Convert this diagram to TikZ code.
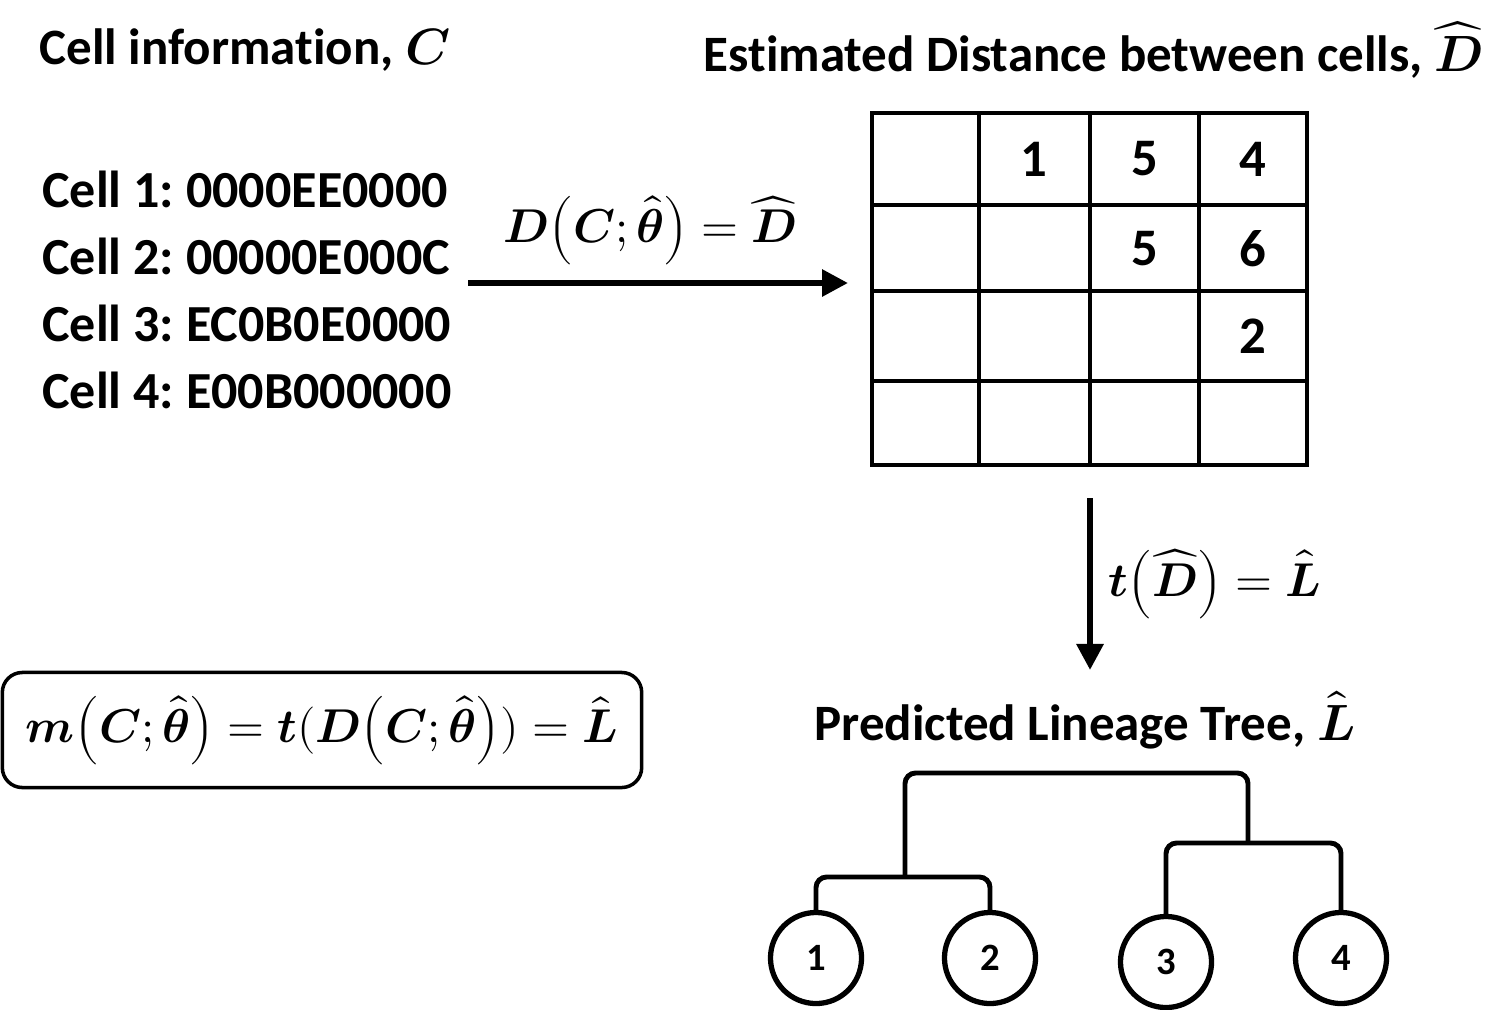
\documentclass[tikz,border=0pt]{standalone}
\usepackage{amsmath}
\usepackage{fontspec}
\usepackage{unicode-math}
\setmainfont{Carlito}[Ligatures=NoCommon]
\setmathfont{Latin Modern Math}
\usetikzlibrary{arrows.meta,positioning}
\frenchspacing

\begin{document}
\begin{tikzpicture}[x=0.01cm, y=-0.01cm, line width=1.4pt,
    title/.style={font=\fontsize{14.5}{17}\selectfont\bfseries},
    cell/.style={font=\fontsize{14.8}{19}\selectfont\bfseries, align=left, anchor=west, inner sep=0pt},
    entry/.style={font=\fontsize{15}{18}\selectfont\bfseries},
    eqn/.style={font=\fontsize{13.5}{16}\selectfont},
    leaf/.style={draw, circle, minimum size=0.91cm, inner sep=0pt, line width=1.5pt, font=\fontsize{11}{13}\selectfont\bfseries},
    bigarrow/.style={-{Triangle[length=0.26cm,width=0.26cm]}, line width=1.7pt}]

    \useasboundingbox (0,0) rectangle (1510,1009);

    % headings
    \node[title] (cinfo) at (245,50) {Cell information, $\symbfit{C}$};
    \node[title] (dtitle) at (1093,50) {Estimated Distance between cells, $\widehat{\symbfit{D}}$};
    \node[title] (ltitle) at (1085,720) {Predicted Lineage Tree, $\hat{\symbfit{L}}$};

    \node[cell] (cells) at (40,290) {Cell 1: 0000EE0000\\Cell 2: 00000E000C\\Cell 3: EC0B0E0000\\Cell 4: E00B000000};

    % distance matrix
    \draw (872,113) rectangle (1307,465);
    \foreach \x in {979,1090,1199}
      \draw (\x,113) -- (\x,465);
    \foreach \y in {205,291,381}
      \draw (872,\y) -- (1307,\y);
    \foreach \c/\r/\v [count=\i] in {1034/159/1, 1145/159/5, 1253/159/4, 1145/249/5, 1253/249/6, 1253/336/2}
      \node[entry] (entry\i) at (\c,\r) {\v};

    % arrows
    \coordinate (hstart) at (468,283);
    \coordinate (hend) at (848,283);
    \coordinate (vstart) at (1090,498);
    \coordinate (vend) at (1090,670);
    \draw [bigarrow] (hstart) to (hend);
    \node[eqn] (dlabel) at (650,230) {$\symbfit{D}{\left(\symbfit{C};\widehat{\symbfit{\theta}}\right)}=\widehat{\symbfit{D}}$};
    \draw [bigarrow] (vstart) to node[eqn, anchor=west, xshift=1pt] (tlabel) {$\symbfit{t}{\left(\widehat{\symbfit{D}}\right)}=\hat{\symbfit{L}}$} (vend);

    % model
    \node[draw, rounded corners=0.2cm, line width=1pt, minimum width=6.39cm, minimum height=1.15cm,
      font=\fontsize{13.5}{16}\selectfont] (model) at (322,730)
      {$\symbfit{m}{\left(\symbfit{C};\widehat{\symbfit{\theta}}\right)}=\symbfit{t}(\symbfit{D}{\left(\symbfit{C};\widehat{\symbfit{\theta}}\right)})=\hat{\symbfit{L}}$};

    % lineage tree
    \node[leaf] (n1) at (816,958) {1};
    \node[leaf] (n2) at (990,958) {2};
    \node[leaf] (n3) at (1166,962) {3};
    \node[leaf] (n4) at (1341,958) {4};
    \coordinate (j12) at (905,877);
    \coordinate (j34) at (1248,843);
    \coordinate (root) at (1080,773);
    \draw[rounded corners=3pt] (n1.north) |- (j12) -| (n2.north);
    \draw[rounded corners=3pt] (n3.north) |- (j34) -| (n4.north);
    \draw[rounded corners=3pt] (j12) |- (root) -| (j34);

\end{tikzpicture}
\end{document}
